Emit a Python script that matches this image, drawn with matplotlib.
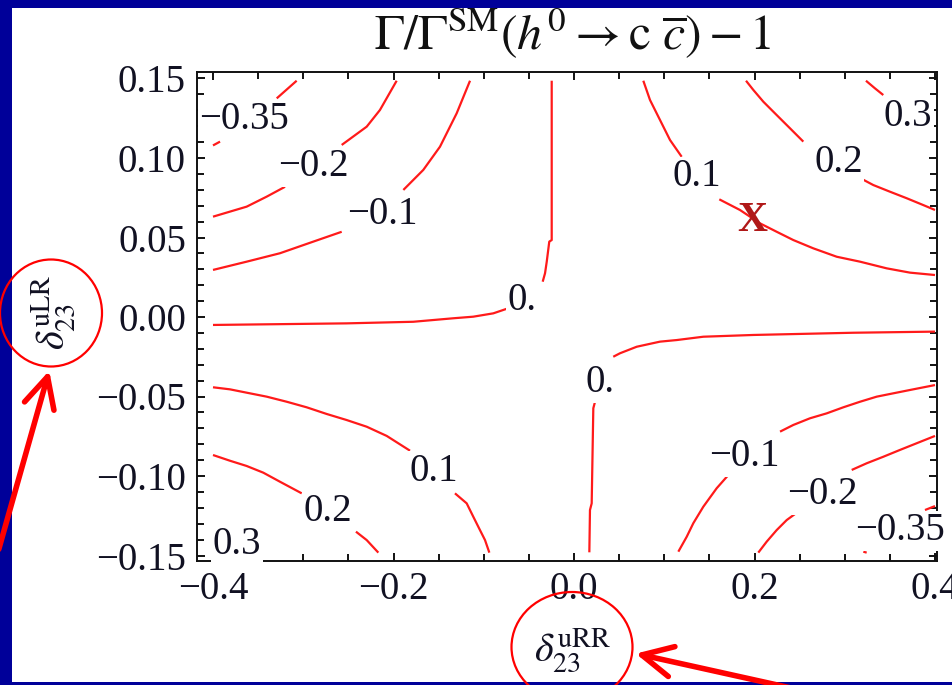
import numpy as np
import matplotlib
matplotlib.use("Agg")
import matplotlib.pyplot as plt
from matplotlib.patches import Rectangle, Ellipse, FancyArrowPatch
from matplotlib.ticker import MultipleLocator, FixedLocator, FixedFormatter

nan = np.nan

# ---------------- data (data units) ----------------
# contour level -0.35 (upper left, lower right)
c_m035_x = [-0.4, -0.3922, nan, -0.3294, -0.3073, nan, 0.3889, 0.4, nan, 0.3206, 0.3243]
c_m035_y = [0.1079, 0.1103, nan, 0.1375, 0.1486, nan, -0.1214, -0.1189, nan, -0.1476, -0.1482]

# contour level -0.2
c_m02_x = [-0.4, -0.3627, -0.3405, -0.3202, nan, -0.2574, -0.2297, -0.2150, -0.1965,
           nan, 0.3077, 0.3243, 0.3427, 0.3612, 0.3797, 0.4,
           nan, 0.2468, 0.2357, 0.2246, 0.2135, 0.2042]
c_m02_y = [0.0631, 0.0694, 0.0757, 0.0819, nan, 0.1082, 0.1197, 0.1302, 0.1486,
           nan, -0.0962, -0.0920, -0.0879, -0.0836, -0.0794, -0.0748,
           nan, -0.1231, -0.1277, -0.1340, -0.1413, -0.1482]

# contour level -0.1
c_m01_x = [-0.4, -0.3627, -0.3258, -0.2889, -0.2574, nan,
           -0.1891, -0.1670, -0.1485, -0.1300, -0.1152,
           nan, 0.2283, 0.2430, 0.2615, 0.2800, 0.2984, 0.3169, 0.3354, 0.3538, 0.3723, 0.4,
           nan, 0.1710, 0.1581, 0.1433, 0.1322, 0.1249, 0.1156]
c_m01_y = [0.0296, 0.0348, 0.0401, 0.0474, 0.0536, nan,
           0.0799, 0.0925, 0.1071, 0.1281, 0.1486,
           nan, -0.0721, -0.0679, -0.0637, -0.0606, -0.0568, -0.0533, -0.0501, -0.0480, -0.0459, -0.0428,
           nan, -0.0994, -0.1077, -0.1193, -0.1297, -0.1382, -0.1476]

# contour level 0
c_0_x = [-0.4, -0.2519, -0.1781, -0.1337, -0.1116, -0.0894, -0.0728,
         nan, -0.0347, -0.0321, -0.0302, -0.0274, -0.0247, -0.0247,
         nan, 0.0435, 0.0510, 0.0695, 0.0953, 0.1138, 0.1433, 0.1987, 0.3095, 0.4,
         nan, 0.0233, 0.0214, 0.0196, 0.0177, 0.0170]
c_0_y = [-0.0050, -0.0040, -0.0030, -0.0008, 0.0002, 0.0023, 0.0055,
         nan, 0.0222, 0.0275, 0.0348, 0.0474, 0.0484, 0.1486,
         nan, -0.0250, -0.0228, -0.0187, -0.0155, -0.0145, -0.0124, -0.0113, -0.0099, -0.0092,
         nan, -0.0533, -0.0574, -0.1172, -0.1214, -0.1480]

# contour level 0.1
c_01_x = [0.0768, 0.0842, 0.0953, 0.1064, 0.1193,
          nan, 0.1610, 0.1839, 0.2061, 0.2246, 0.2430, 0.2651, 0.2911, 0.3169, 0.3465, 0.3723, 0.4,
          nan, -0.4, -0.3812, -0.3627, -0.3405, -0.3183, -0.2962, -0.2740, -0.2519, -0.2297, -0.2075, -0.1817,
          nan, -0.1319, -0.1189, -0.1116, -0.1042, -0.0986, -0.0938]
c_01_y = [0.1486, 0.1365, 0.1239, 0.1113, 0.1008,
          nan, 0.0740, 0.0673, 0.0589, 0.0536, 0.0484, 0.0432, 0.0379, 0.0348, 0.0306, 0.0279, 0.0264,
          nan, -0.0442, -0.0455, -0.0476, -0.0501, -0.0533, -0.0568, -0.0610, -0.0648, -0.0690, -0.0748, -0.0841,
          nan, -0.1109, -0.1172, -0.1256, -0.1340, -0.1403, -0.1482]

# contour level 0.2
c_02_x = [0.1906, 0.1987, 0.2098, 0.2246, 0.2393, 0.2541,
          nan, 0.3143, 0.3316, 0.3501, 0.3686, 0.3870, 0.4,
          nan, -0.4, -0.3812, -0.3627, -0.3443, -0.3258, -0.3017,
          nan, -0.2416, -0.2297, -0.2168]
c_02_y = [0.1486, 0.1428, 0.1354, 0.1270, 0.1187, 0.1103,
          nan, 0.0882, 0.0830, 0.0788, 0.0747, 0.0704, 0.0673,
          nan, -0.0868, -0.0904, -0.0937, -0.0979, -0.1036, -0.1109,
          nan, -0.1350, -0.1403, -0.1482]

# contour level 0.3
c_03_x = [0.3235, 0.3335, 0.3427]
c_03_y = [0.1486, 0.1438, 0.1396]

# contour labels
label_text = ["−0.35", "−0.2", "−0.1", "0.", "0.1", "0.2", "0.3",
              "0.", "−0.1", "−0.2", "−0.35", "0.1", "0.2", "0.3"]
label_x = [-0.3657, -0.2892, -0.2127, -0.0576, 0.1360, 0.2931, 0.3701,
           0.0288, 0.1884, 0.2748, 0.3612, -0.1551, -0.2726, -0.3734]
label_y = [0.1270, 0.0975, 0.0673, 0.0132, 0.0909, 0.1000, 0.1289,
           -0.0384, -0.0849, -0.1088, -0.1315, -0.0943, -0.1195, -0.1403]

# marked point
mark_x = [0.198]
mark_y = [0.0635]

x_ticks = [-0.4, -0.2, 0.0, 0.2, 0.4]
x_ticklabels = ["−0.4", "−0.2", "0.0", "0.2", "0.4"]
y_ticks = [0.15, 0.10, 0.05, 0.00, -0.05, -0.10, -0.15]
y_ticklabels = ["0.15", "0.10", "0.05", "0.00", "−0.05", "−0.10", "−0.15"]

title_text = r"$\Gamma/\Gamma^{\mathrm{SM}}(h^0 \rightarrow \mathrm{c}\ \overline{c}) - 1$"
xlabel_text = r"$\delta_{23}^{\mathrm{uRR}}$"
ylabel_text = r"$\delta_{23}^{\mathrm{uLR}}$"

# ---------------- figure ----------------
W, H = 952, 685
plt.rcParams['font.family'] = ['Liberation Serif', 'DejaVu Serif']
plt.rcParams['mathtext.fontset'] = 'stix'

fig = plt.figure(figsize=(W / 100, H / 100), dpi=100)
fig.patch.set_facecolor('#000099')


def px(x, y):
    return (x / W, 1 - y / H)


fig.add_artist(Rectangle(px(12, 682), (W - 12) / W, (682 - 8) / H,
                         transform=fig.transFigure, facecolor='white',
                         edgecolor='none', zorder=0))

ax = fig.add_axes([197 / W, 1 - 561 / H, (937 - 197) / W, (561 - 72) / H])
ax.set_facecolor('white')

line_kw = dict(color='#ff1a1a', lw=1.6, solid_capstyle='butt')
for xs, ys in [(c_m035_x, c_m035_y), (c_m02_x, c_m02_y), (c_m01_x, c_m01_y),
               (c_0_x, c_0_y), (c_01_x, c_01_y), (c_02_x, c_02_y), (c_03_x, c_03_y)]:
    ax.plot(xs, ys, **line_kw)

fs = 28
for t, x, y in zip(label_text, label_x, label_y):
    ax.text(x, y, t, fontsize=fs, ha='center', va='center_baseline',
            color='#111122', zorder=6, clip_on=False,
            bbox=dict(facecolor='white', edgecolor='none', pad=1.0))

ax.text(mark_x[0], mark_y[0], "X", fontsize=30, fontweight='bold',
        color='#b01818', ha='center', va='center_baseline', zorder=7)

ax.set_xlim(-0.4 - 16 / 902.5, 0.4 + 2 / 902.5)
ax.set_ylim(0.15 - (561 - 78.5) / 1590, 0.15 + (78.5 - 72) / 1590)

ax.xaxis.set_major_locator(FixedLocator(x_ticks))
ax.xaxis.set_major_formatter(FixedFormatter(x_ticklabels))
ax.yaxis.set_major_locator(FixedLocator(y_ticks))
ax.yaxis.set_major_formatter(FixedFormatter(y_ticklabels))
ax.xaxis.set_minor_locator(MultipleLocator(0.05))
ax.yaxis.set_minor_locator(MultipleLocator(0.01))
ax.tick_params(which='both', direction='in', top=True, right=True,
               width=1.4, color='#111111')
ax.tick_params(which='major', length=6, labelsize=fs, labelcolor='#111122')
ax.tick_params(axis='x', which='major', pad=7)
ax.tick_params(axis='y', which='major', pad=8)
ax.tick_params(which='minor', length=5)
for s in ax.spines.values():
    s.set_linewidth(1.4)
    s.set_color('#111111')

fig.text(*px(573, 34), title_text, fontsize=36, ha='center', va='center', color='#111111')
fig.text(*px(572, 650), xlabel_text, fontsize=29, ha='center', va='center', color='#111122')
fig.text(*px(53, 312), ylabel_text, fontsize=29, ha='center', va='center',
         rotation=90, color='#111122')

# red circles and arrows (annotations on the slide)
fig.add_artist(Ellipse(px(51, 313), 102 / W, 107 / H, transform=fig.transFigure,
                       facecolor='none', edgecolor='#ff0000', lw=1.6, zorder=10))
fig.add_artist(Ellipse(px(572, 647), 121 / W, 110 / H, transform=fig.transFigure,
                       facecolor='none', edgecolor='#ff0000', lw=1.6, zorder=10))
fig.add_artist(FancyArrowPatch(px(-2, 552), px(50, 368), transform=fig.transFigure,
                               arrowstyle='->,head_length=1.1,head_width=0.55',
                               mutation_scale=20, color='#ff0000', lw=4, zorder=11))
fig.add_artist(FancyArrowPatch(px(800, 690), px(633, 653), transform=fig.transFigure,
                               arrowstyle='->,head_length=1.1,head_width=0.55',
                               mutation_scale=20, color='#ff0000', lw=4, zorder=11))

fig.savefig("out.png", dpi=100, facecolor=fig.get_facecolor())
